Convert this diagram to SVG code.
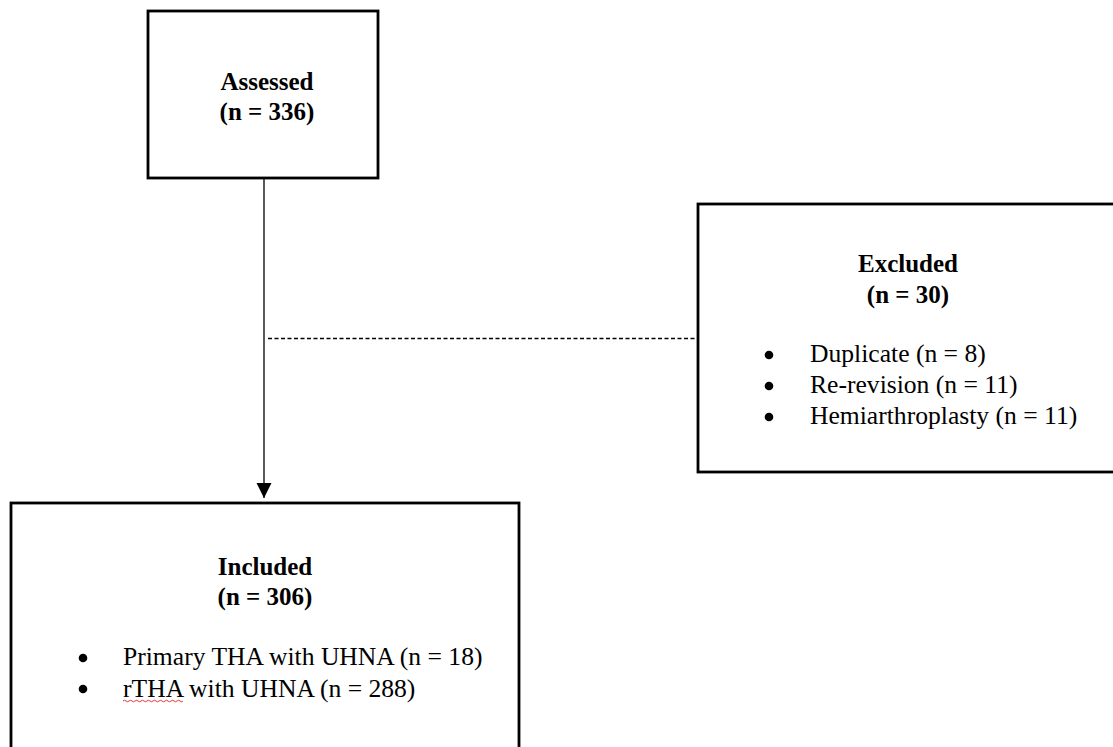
<svg xmlns="http://www.w3.org/2000/svg" width="1113" height="747" viewBox="0 0 1113 747">
  <style>
    .box { fill: #ffffff; stroke: #000000; stroke-width: 2.8; }
    .title { font-family: "Liberation Serif", "Times New Roman", serif; font-size: 25px; font-weight: bold; fill: #000000; text-anchor: middle; }
    .item { font-family: "Liberation Serif", "Times New Roman", serif; font-size: 25.6px; fill: #000000; }
    .bullet { fill: #000000; }
    .conn { stroke: #000000; stroke-width: 1.3; fill: none; }
    .dash { stroke: #000000; stroke-width: 1.3; fill: none; stroke-dasharray: 4 2.5; }
  </style>
  <defs>
    <marker id="arrow" markerUnits="userSpaceOnUse" markerWidth="16" markerHeight="16" refX="15" refY="7.5" orient="auto">
      <path d="M0,0 L15,7.5 L0,15 Z" fill="#000000"/>
    </marker>
  </defs>
  <rect width="1113" height="747" fill="#ffffff"/>

  <g id="connectors">
    <line class="conn" x1="264" y1="179" x2="264" y2="498" marker-end="url(#arrow)"/>
    <line class="dash" x1="268" y1="338.5" x2="697" y2="338.5"/>
  </g>

  <g id="assessed">
    <rect class="box" x="148" y="11" width="230" height="167"/>
    <text class="title" x="267" y="90">Assessed</text>
    <text class="title" x="267" y="120">(n = 336)</text>
  </g>

  <g id="excluded">
    <rect class="box" x="698" y="204" width="430" height="268"/>
    <text class="title" x="908" y="272">Excluded</text>
    <text class="title" x="908" y="303">(n = 30)</text>
    <circle class="bullet" cx="769" cy="355" r="4.3"/>
    <circle class="bullet" cx="769" cy="386" r="4.3"/>
    <circle class="bullet" cx="769" cy="417" r="4.3"/>
    <text class="item" x="810" y="362">Duplicate (n = 8)</text>
    <text class="item" x="810" y="393">Re-revision (n = 11)</text>
    <text class="item" x="810" y="424">Hemiarthroplasty (n = 11)</text>
  </g>

  <g id="included">
    <rect class="box" x="11" y="503" width="508" height="260"/>
    <text class="title" x="265" y="575">Included</text>
    <text class="title" x="265" y="605">(n = 306)</text>
    <circle class="bullet" cx="83" cy="658" r="4.3"/>
    <circle class="bullet" cx="83" cy="689" r="4.3"/>
    <text class="item" x="123" y="665">Primary THA with UHNA (n = 18)</text>
    <text class="item" x="123" y="697">rTHA with UHNA (n = 288)</text>
    <path d="M123,701 q1.5,-1.5 3,0 t3,0 t3,0 t3,0 t3,0 t3,0 t3,0 t3,0 t3,0 t3,0 t3,0 t3,0 t3,0 t3,0 t3,0 t3,0 t3,0 t3,0 t3,0 t3,0" fill="none" stroke="#e02020" stroke-width="0.9"/>
  </g>
</svg>
